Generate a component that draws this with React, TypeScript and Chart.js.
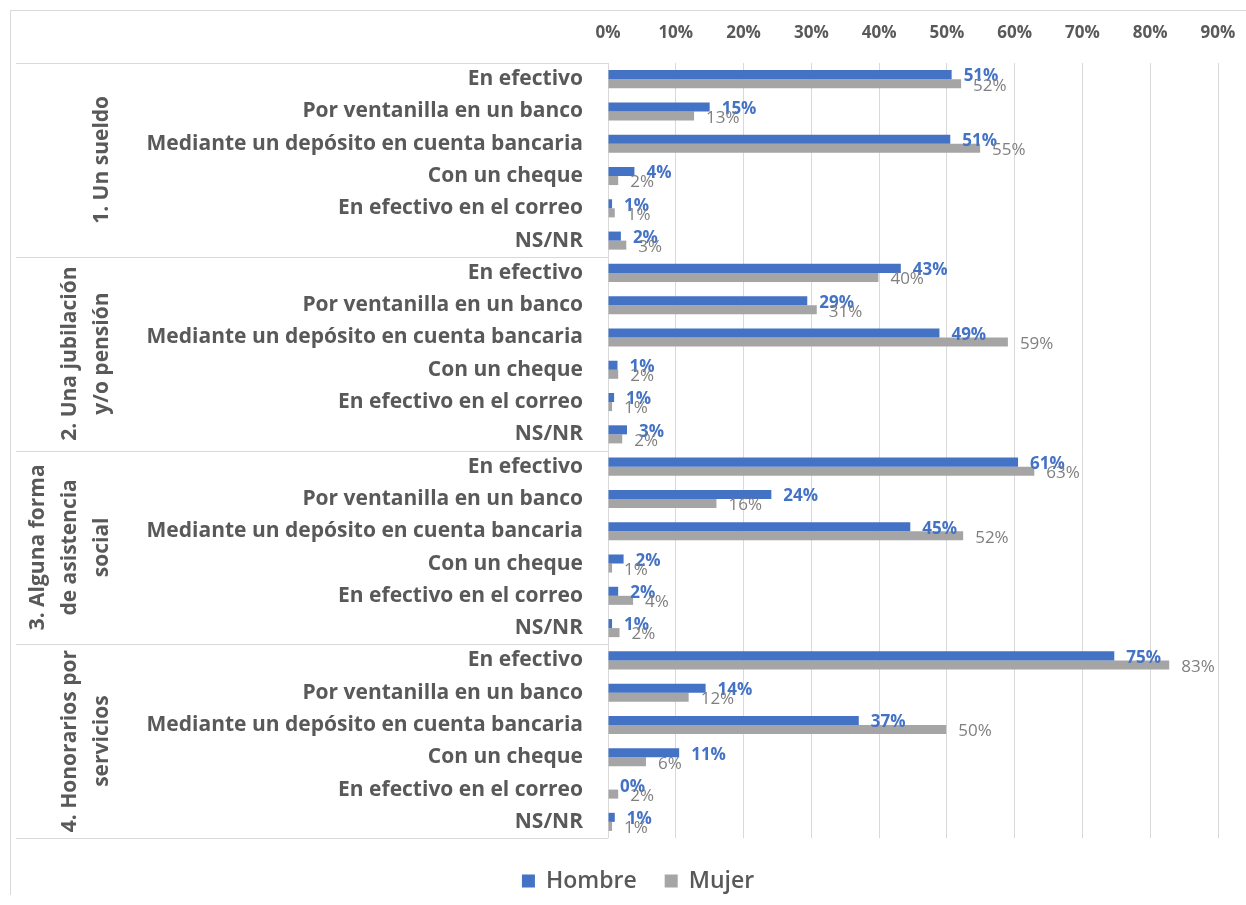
import React, { useEffect, useRef } from "react";
import { Chart, registerables } from "chart.js";

Chart.register(...registerables);

const FONT = "'Open Sans', 'Noto Sans', sans-serif";
const TEXT = "#595959";
const BLUE = "#4472C4";
const GRAY = "#A5A5A5";
const GRID = "#D9D9D9";

const groupLabels: string[][] = [
  ["1. Un sueldo"],
  ["2. Una jubilación", "y/o pensión"],
  ["3. Alguna forma", "de asistencia", "social"],
  ["4. Honorarios por", "servicios"],
];
const methods = [
  "En efectivo",
  "Por ventanilla en un banco",
  "Mediante un depósito en cuenta bancaria",
  "Con un cheque",
  "En efectivo en el correo",
  "NS/NR",
];

const hombreSueldo = [50.7, 15.0, 50.5, 3.9, 0.6, 1.9];
const mujerSueldo = [52.1, 12.7, 54.9, 1.5, 1.0, 2.7];
const hombreJubilacion = [43.2, 29.4, 48.9, 1.4, 0.9, 2.8];
const mujerJubilacion = [39.9, 30.8, 59.0, 1.5, 0.6, 2.1];
const hombreAsistencia = [60.5, 24.1, 44.6, 2.3, 1.5, 0.6];
const mujerAsistencia = [62.9, 16.0, 52.4, 0.6, 3.7, 1.7];
const hombreHonorarios = [74.7, 14.4, 37.0, 10.5, 0.0, 1.0];
const mujerHonorarios = [82.8, 11.9, 49.9, 5.6, 1.5, 0.6];

const seriesNames = ["Hombre", "Mujer"];
const xMin = 0;
const xMax = 90;
const xStep = 10;

const labels = groupLabels.flatMap(() => methods);
const hombre = [...hombreSueldo, ...hombreJubilacion, ...hombreAsistencia, ...hombreHonorarios];
const mujer = [...mujerSueldo, ...mujerJubilacion, ...mujerAsistencia, ...mujerHonorarios];

const CAT_FONT_SIZE = 21;

const decorPlugin = {
  id: "decor",
  afterDraw(chart: any) {
    const ctx = chart.ctx;
    const y = chart.scales.y;
    const area = chart.chartArea;
    ctx.save();
    // separators
    ctx.strokeStyle = GRID;
    ctx.lineWidth = 1;
    for (let g = 0; g <= groupLabels.length; g++) {
      const py = Math.round(y.getPixelForValue(g * methods.length - 0.5)) + 0.5;
      ctx.beginPath();
      ctx.moveTo(5, py);
      ctx.lineTo(area.left, py);
      ctx.stroke();
    }
    // group labels
    ctx.fillStyle = TEXT;
    ctx.font = `bold ${CAT_FONT_SIZE}px ${FONT}`;
    ctx.textAlign = "center";
    ctx.textBaseline = "middle";
    groupLabels.forEach((lines, g) => {
      const top = y.getPixelForValue(g * methods.length - 0.5);
      const bot = y.getPixelForValue((g + 1) * methods.length - 0.5);
      const cy = (top + bot) / 2;
      const n = lines.length;
      lines.forEach((line, i) => {
        const cx = 91 - (n - 1 - i) * 32;
        ctx.save();
        ctx.translate(cx, cy);
        ctx.rotate(-Math.PI / 2);
        ctx.fillText(line, 0, 0);
        ctx.restore();
      });
    });
    // data labels
    chart.data.datasets.forEach((ds: any, di: number) => {
      const meta = chart.getDatasetMeta(di);
      ctx.font = di === 0 ? `bold 17px ${FONT}` : `17px ${FONT}`;
      ctx.fillStyle = di === 0 ? BLUE : "#7F7F7F";
      ctx.textAlign = "left";
      ctx.textBaseline = "middle";
      meta.data.forEach((el: any, i: number) => {
        const v = ds.data[i];
        ctx.fillText(Math.round(v) + "%", el.x + 12, el.y + 2);
      });
    });
    // legend
    ctx.font = `600 23px ${FONT}`;
    ctx.textBaseline = "middle";
    ctx.textAlign = "left";
    const colors = [BLUE, GRAY];
    const sq = 13;
    const gapAfterSq = 11;
    const gapBetween = 28;
    const widths = seriesNames.map((n) => ctx.measureText(n).width);
    const total = widths.reduce((a, w) => a + sq + gapAfterSq + w, 0) + gapBetween;
    let lx = 627 - total / 2;
    const ly = 870;
    seriesNames.forEach((n, i) => {
      ctx.fillStyle = colors[i];
      ctx.fillRect(lx, ly - sq / 2, sq, sq);
      lx += sq + gapAfterSq;
      ctx.fillStyle = TEXT;
      ctx.fillText(n, lx, ly);
      lx += widths[i] + gapBetween;
    });
    ctx.restore();
  },
};

export default function App() {
  const ref = useRef<HTMLCanvasElement | null>(null);
  useEffect(() => {
    if (!ref.current) return;
    const chart = new Chart(ref.current, {
      type: "bar",
      data: {
        labels,
        datasets: [
          {
            label: seriesNames[0],
            data: hombre,
            backgroundColor: BLUE,
            categoryPercentage: 0.56,
            barPercentage: 1,
          },
          {
            label: seriesNames[1],
            data: mujer,
            backgroundColor: GRAY,
            categoryPercentage: 0.56,
            barPercentage: 1,
          },
        ],
      },
      options: {
        indexAxis: "y",
        animation: false,
        responsive: false,
        maintainAspectRatio: false,
        layout: { padding: { left: 0, right: 28, top: 0, bottom: 57 } },
        plugins: {
          legend: { display: false },
          tooltip: { enabled: false },
        },
        scales: {
          x: {
            position: "top",
            min: xMin,
            max: xMax,
            ticks: {
              stepSize: xStep,
              callback: (v: any) => v + "%",
              color: TEXT,
              font: { family: FONT, size: 17, weight: "bold" },
              padding: 20,
              maxRotation: 0,
            },
            grid: { color: GRID, drawTicks: false },
            border: { display: false },
            afterFit: (s: any) => {
              s.height = 52;
              s.paddingLeft = 0;
              s.paddingRight = 0;
            },
          },
          y: {
            ticks: {
              color: TEXT,
              font: { family: FONT, size: CAT_FONT_SIZE, weight: "bold" },
              padding: 17,
              autoSkip: false,
            },
            grid: { display: false },
            border: { display: false },
            afterFit: (s: any) => {
              s.width = 597;
              s.paddingTop = 0;
              s.paddingBottom = 0;
            },
          },
        },
      },
      plugins: [decorPlugin],
    } as any);
    return () => chart.destroy();
  }, []);
  return (
    <div
      style={{
        position: "absolute",
        left: 10,
        top: 10,
        width: 1236,
        height: 885,
        borderTop: "1px solid #D9D9D9",
        borderLeft: "1px solid #D9D9D9",
        boxSizing: "border-box",
        background: "#fff",
      }}
    >
      <canvas ref={ref} width={1235} height={884} style={{ display: "block" }} />
    </div>
  );
}
